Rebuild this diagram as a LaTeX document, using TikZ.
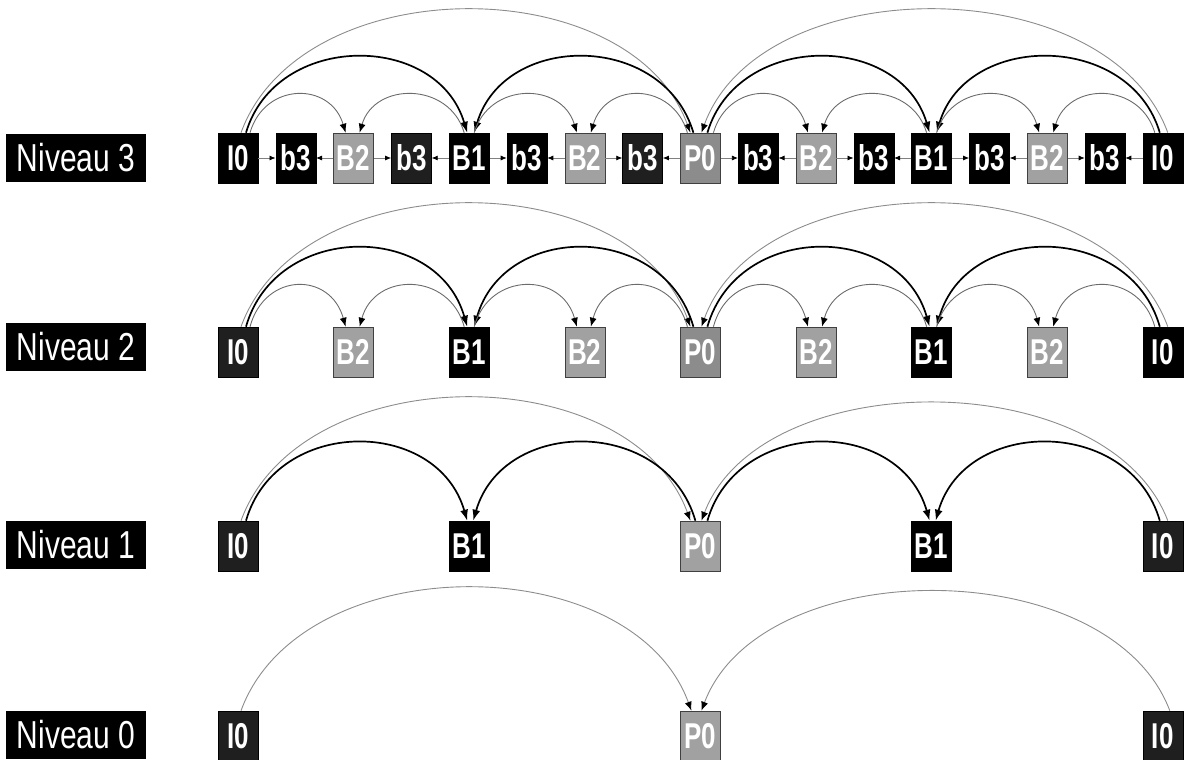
\documentclass[tikz,border=0pt]{standalone}
\usepackage{fontspec}
\setmainfont{Liberation Sans}
\usetikzlibrary{arrows.meta}
\definecolor{btwo}{gray}{0.63}
\definecolor{pzero}{gray}{0.55}
\definecolor{arcgray}{gray}{0.42}
\definecolor{biggray}{gray}{0.55}
\definecolor{texblack}{gray}{0.12}
\newcommand\boxtxt[1]{\scalebox{1}[1.38]{#1}}
\newcommand\labtxt[1]{\scalebox{1}[1.3]{#1}}
\newcommand\myarc[7]{\draw[#1] ([xshift=#3pt]#2.north) .. controls +(#7,-#6) and +(-#7,-#6) .. ([xshift=#5pt]#4.north);}
\tikzset{
  frame/.style={minimum width=40pt, minimum height=50pt, inner sep=0pt, text=white,
    font=\fontsize{26}{26}\selectfont\bfseries, draw=black, line width=0.6pt},
  fdark/.style={frame, fill=black},
  ftex/.style={frame, fill=texblack},
  ftwo/.style={frame, fill=btwo, draw=black!75},
  fzero/.style={frame, fill=pzero, draw=black!75},
  lab/.style={fill=black, text=white, minimum width=140pt, minimum height=48pt, inner sep=0pt,
    font=\fontsize{30}{30}\selectfont},
  sa/.style={draw=arcgray, line width=0.9pt, -{Latex[length=9pt,width=7pt,color=black]}},
  ta/.style={draw=black, line width=1.7pt, -{Latex[length=11pt,width=8pt]}},
  ba/.style={draw=biggray, line width=0.9pt, -{Latex[length=9pt,width=7pt,color=black]}},
  harr/.style={draw=gray, line width=0.7pt, -{Latex[length=6pt,width=5pt,color=black]}}
}
\begin{document}
\begin{tikzpicture}[x=1pt,y=-1pt]
\useasboundingbox (0,0) rectangle (1184,760);
% labels
\node[lab] (l3) at (76,158) {\labtxt{Niveau 3}};
\node[lab] (l2) at (76,347) {\labtxt{Niveau 2}};
\node[lab] (l1) at (76,545) {\labtxt{Niveau 1}};
\node[lab] (l0) at (76,735) {\labtxt{Niveau 0}};
% level 3
\node[fdark] (a0)  at (238.0,158) {\boxtxt{I0}};
\node[fdark] (a1)  at (295.8,158) {\boxtxt{b3}};
\node[ftwo]  (a2)  at (353.6,158) {\boxtxt{B2}};
\node[ftex]  (a3)  at (411.4,158) {\boxtxt{b3}};
\node[fdark] (a4)  at (469.2,158) {\boxtxt{B1}};
\node[fdark] (a5)  at (527.0,158) {\boxtxt{b3}};
\node[ftwo]  (a6)  at (584.8,158) {\boxtxt{B2}};
\node[ftex]  (a7)  at (642.6,158) {\boxtxt{b3}};
\node[fzero] (a8)  at (700.4,158) {\boxtxt{P0}};
\node[fdark] (a9)  at (758.2,158) {\boxtxt{b3}};
\node[ftwo]  (a10) at (816.0,158) {\boxtxt{B2}};
\node[fdark] (a11) at (873.8,158) {\boxtxt{b3}};
\node[fdark] (a12) at (931.6,158) {\boxtxt{B1}};
\node[fdark] (a13) at (989.4,158) {\boxtxt{b3}};
\node[ftwo]  (a14) at (1047.2,158) {\boxtxt{B2}};
\node[fdark] (a15) at (1105.0,158) {\boxtxt{b3}};
\node[fdark] (a16) at (1162.8,158) {\boxtxt{I0}};
% level 2
\node[ftex]  (b0)  at (238.0,352) {\boxtxt{I0}};
\node[ftwo]  (b2)  at (353.6,352) {\boxtxt{B2}};
\node[fdark] (b4)  at (469.2,352) {\boxtxt{B1}};
\node[ftwo]  (b6)  at (584.8,352) {\boxtxt{B2}};
\node[fzero] (b8)  at (700.4,352) {\boxtxt{P0}};
\node[ftwo]  (b10) at (816.0,352) {\boxtxt{B2}};
\node[fdark] (b12) at (931.6,352) {\boxtxt{B1}};
\node[ftwo]  (b14) at (1047.2,352) {\boxtxt{B2}};
\node[fdark] (b16) at (1162.8,352) {\boxtxt{I0}};
% level 1
\node[ftex]  (c0)  at (238.0,546) {\boxtxt{I0}};
\node[fdark] (c4)  at (469.2,546) {\boxtxt{B1}};
\node[ftwo]  (c8)  at (700.4,546) {\boxtxt{P0}};
\node[fdark] (c12) at (931.6,546) {\boxtxt{B1}};
\node[ftex]  (c16) at (1162.8,546) {\boxtxt{I0}};
% level 0
\node[ftex]  (d0)  at (238.0,736) {\boxtxt{I0}};
\node[ftwo]  (d8)  at (700.4,736) {\boxtxt{P0}};
\node[ftex]  (d16) at (1162.8,736) {\boxtxt{I0}};

% level 3 horizontal arrows
\draw[harr] (a0) -- (a1);
\draw[harr] (a2) -- (a1);
\draw[harr] (a2) -- (a3);
\draw[harr] (a4) -- (a3);
\draw[harr] (a4) -- (a5);
\draw[harr] (a6) -- (a5);
\draw[harr] (a6) -- (a7);
\draw[harr] (a8) -- (a7);
\draw[harr] (a8) -- (a9);
\draw[harr] (a10) -- (a9);
\draw[harr] (a10) -- (a11);
\draw[harr] (a12) -- (a11);
\draw[harr] (a12) -- (a13);
\draw[harr] (a14) -- (a13);
\draw[harr] (a14) -- (a15);
\draw[harr] (a16) -- (a15);

% level 3 arcs
\myarc{ba}{a0}{3}{a8}{-10}{164}{60}
\myarc{ba}{a16}{5}{a8}{1}{164}{-60}
\myarc{ta}{a0}{8}{a4}{-2}{101}{30}
\myarc{ta}{a8}{-7}{a4}{5}{101}{-30}
\myarc{ta}{a8}{7}{a12}{-2}{101}{30}
\myarc{ta}{a16}{-3}{a12}{5}{101}{-30}
\myarc{sa}{a0}{12}{a2}{-8}{51}{15}
\myarc{sa}{a4}{-5}{a2}{6}{51}{-15}
\myarc{sa}{a4}{5}{a6}{-8}{51}{15}
\myarc{sa}{a8}{-13}{a6}{6}{51}{-15}
\myarc{sa}{a8}{13}{a10}{-8}{51}{15}
\myarc{sa}{a12}{-5}{a10}{6}{51}{-15}
\myarc{sa}{a12}{5}{a14}{-8}{51}{15}
\myarc{sa}{a16}{-8}{a14}{6}{51}{-15}

% level 2 arcs
\myarc{ba}{b0}{3}{b8}{-10}{164}{60}
\myarc{ba}{b16}{5}{b8}{1}{164}{-60}
\myarc{ta}{b0}{8}{b4}{-2}{105}{30}
\myarc{ta}{b8}{-7}{b4}{5}{105}{-30}
\myarc{ta}{b8}{7}{b12}{-2}{105}{30}
\myarc{ta}{b16}{-3}{b12}{5}{105}{-30}
\myarc{sa}{b0}{12}{b2}{-8}{55}{15}
\myarc{sa}{b4}{-5}{b2}{6}{55}{-15}
\myarc{sa}{b4}{5}{b6}{-8}{55}{15}
\myarc{sa}{b8}{-13}{b6}{6}{55}{-15}
\myarc{sa}{b8}{13}{b10}{-8}{55}{15}
\myarc{sa}{b12}{-5}{b10}{6}{55}{-15}
\myarc{sa}{b12}{5}{b14}{-8}{55}{15}
\myarc{sa}{b16}{-8}{b14}{6}{55}{-15}

% level 1 arcs
\myarc{ba}{c0}{3}{c8}{-10}{164}{60}
\myarc{ba}{c16}{5}{c8}{1}{157}{-60}
\myarc{ta}{c0}{8}{c4}{-2}{104}{30}
\myarc{ta}{c8}{-5}{c4}{4}{104}{-30}
\myarc{ta}{c8}{7}{c12}{-2}{104}{30}
\myarc{ta}{c16}{-3}{c12}{4}{104}{-30}

% level 0 arcs
\myarc{ba}{d0}{3}{d8}{-9}{164}{60}
\myarc{ba}{d16}{7}{d8}{1}{159}{-60}
\end{tikzpicture}
\end{document}
